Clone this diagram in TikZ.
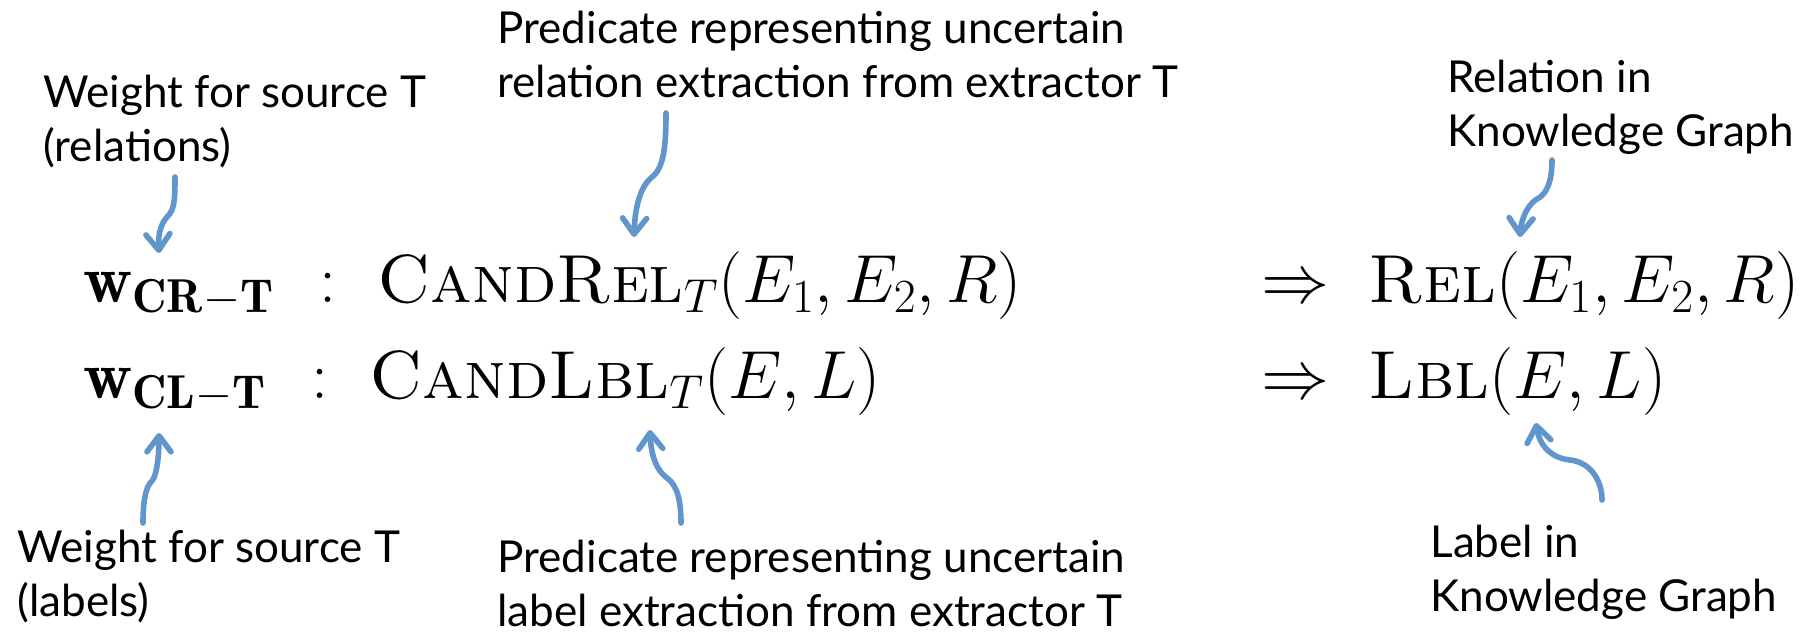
\RequirePackage{fix-cm}
\documentclass[tikz,border=0pt]{standalone}
\usepackage{fontspec}
\setsansfont{Lato}
\usetikzlibrary{arrows.meta}
\definecolor{arrblue}{RGB}{96,150,204}
\newcommand{\annfont}{\sffamily\fontsize{22}{27}\selectfont}
\newcommand{\bigmath}{\fontsize{34}{40}\selectfont}
\tikzset{
  ann/.style={inner sep=0pt, anchor=base west, font=\annfont},
  mth/.style={inner sep=0pt, anchor=base west, font=\bigmath},
  callout/.style={draw=arrblue, line width=2.8pt, line cap=round, line join=round,
    -{Straight Barb[length=8pt,width=12pt,line cap=round,line join=round]}}
}
\newcommand{\twolines}[2]{\begin{tabular}[t]{@{}l@{}}#1\\#2\end{tabular}}
\begin{document}
\begin{tikzpicture}[x=0.5pt,y=-0.5pt]
\useasboundingbox (0,0) rectangle (1814,633);
% annotations
\node[ann] (t1) at (43,107) {\twolines{Weight for source T}{(relations)}};
\node[ann] (t2) at (497,43) {\twolines{Predicate representing uncertain}{relation extraction from extractor T}};
\node[ann] (t3) at (1447,92) {\twolines{Relation in}{Knowledge Graph}};
\node[ann] (t4) at (17,562) {\twolines{Weight for source T}{(labels)}};
\node[ann] (t5) at (497,572) {\twolines{Predicate representing uncertain}{label extraction from extractor T}};
\node[ann] (t6) at (1430,557) {\twolines{Label in}{Knowledge Graph}};
% formulas
\node[mth] (w1) at (83,302) {$\mathbf{w}_{\mathbf{CR-T}}$};
\node[mth, anchor=base] (k1) at (328,302) {$:$};
\node[mth] (c1) at (377,302) {$\textsc{CandRel}_T(E_1,E_2,R)$};
\node[mth] (r1) at (1261,302) {$\Rightarrow\ \textsc{Rel}(E_1,E_2,R)$};
\node[mth] (w2) at (83,398) {$\mathbf{w}_{\mathbf{CL-T}}$};
\node[mth, anchor=base] (k2) at (320,398) {$:$};
\node[mth] (c2) at (369,398) {$\textsc{CandLbl}_T(E,L)$};
\node[mth] (r2) at (1261,398) {$\Rightarrow\ \textsc{Lbl}(E,L)$};
% arrow ends
\coordinate (a1s) at (175,177); \coordinate (a1e) at (159,253);
\coordinate (a2s) at (666,113); \coordinate (a2e) at (634,237);
\coordinate (a3s) at (1552,160); \coordinate (a3e) at (1520,237);
\coordinate (a4s) at (143,523); \coordinate (a4e) at (159,433);
\coordinate (a5s) at (681,523); \coordinate (a5e) at (650,430);
\coordinate (a6s) at (1602,500); \coordinate (a6e) at (1536,423);
\draw[callout] (a1s) .. controls (175,203) and (174,210) .. (167,217) .. controls (160,225) and (158,236) .. (a1e);
\draw[callout] (a2s) .. controls (666,145) and (664,168) .. (652,177) .. controls (641,186) and (635,205) .. (a2e);
\draw[callout] (a3s) .. controls (1552,185) and (1545,195) .. (1537,199) .. controls (1527,205) and (1521,220) .. (a3e);
\draw[callout] (a4s) .. controls (143,500) and (146,486) .. (152,481) .. controls (157,475) and (159,455) .. (a4e);
\draw[callout] (a5s) .. controls (681,500) and (677,485) .. (667,478) .. controls (656,470) and (651,455) .. (a5e);
\draw[callout] (a6s) .. controls (1602,480) and (1590,462) .. (1570,460) .. controls (1553,458) and (1540,448) .. (a6e);
\end{tikzpicture}
\end{document}
